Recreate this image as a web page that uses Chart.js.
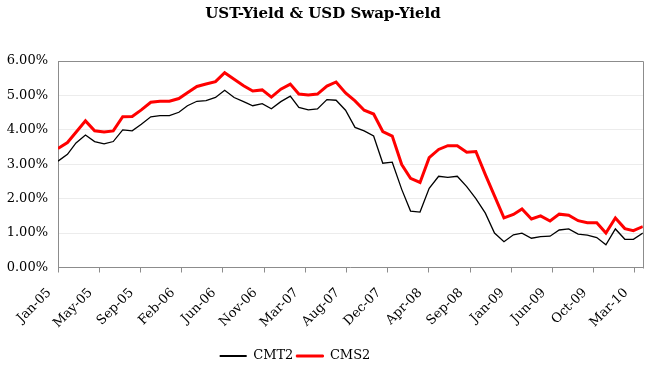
<!DOCTYPE html>
<html>
<head>
<meta charset="utf-8">
<script src="https://cdn.jsdelivr.net/npm/chart.js@4/dist/chart.umd.min.js"></script>
<style>
  html, body { margin: 0; padding: 0; background: #fff; }
  #wrap { width: 650px; height: 368px; position: relative; }
</style>
</head>
<body>
<div id="wrap"><canvas id="c" width="650" height="368"></canvas></div>
<script>
// ---- data ----
const months = [
  '2005-01','2005-02','2005-03','2005-04','2005-05','2005-06','2005-07','2005-08','2005-09','2005-10','2005-11','2005-12',
  '2006-01','2006-02','2006-03','2006-04','2006-05','2006-06','2006-07','2006-08','2006-09','2006-10','2006-11','2006-12',
  '2007-01','2007-02','2007-03','2007-04','2007-05','2007-06','2007-07','2007-08','2007-09','2007-10','2007-11','2007-12',
  '2008-01','2008-02','2008-03','2008-04','2008-05','2008-06','2008-07','2008-08','2008-09','2008-10','2008-11','2008-12',
  '2009-01','2009-02','2009-03','2009-04','2009-05','2009-06','2009-07','2009-08','2009-09','2009-10','2009-11','2009-12',
  '2010-01','2010-02','2010-03','2010-04'
];
const cmt2 = [
  3.09,3.29,3.62,3.85,3.66,3.59,3.66,4.00,3.97,4.16,4.38,4.41,
  4.41,4.51,4.70,4.83,4.85,4.94,5.15,4.94,4.82,4.70,4.76,4.61,
  4.82,4.98,4.65,4.58,4.61,4.88,4.86,4.57,4.07,3.97,3.82,3.03,
  3.06,2.27,1.64,1.61,2.30,2.65,2.62,2.65,2.35,2.00,1.58,1.00,
  0.75,0.95,1.00,0.85,0.90,0.91,1.09,1.12,0.97,0.94,0.87,0.66,
  1.12,0.82,0.82,1.00
];
const cms2 = [
  3.46,3.63,3.93,4.26,3.97,3.94,3.97,4.38,4.39,4.58,4.80,4.83,
  4.83,4.91,5.08,5.26,5.33,5.40,5.66,5.47,5.28,5.13,5.16,4.95,
  5.18,5.33,5.04,5.01,5.04,5.27,5.39,5.07,4.84,4.57,4.46,3.95,
  3.82,2.99,2.59,2.47,3.19,3.43,3.54,3.54,3.35,3.37,2.70,2.08,
  1.44,1.54,1.70,1.41,1.50,1.35,1.55,1.52,1.36,1.30,1.30,1.00,
  1.44,1.13,1.07,1.19
];
const tickLabels = ['Jan-05','May-05','Sep-05','Feb-06','Jun-06','Nov-06','Mar-07','Aug-07','Dec-07','Apr-08','Sep-08','Jan-09','Jun-09','Oct-09','Mar-10'];
const yTicks = [0,1,2,3,4,5,6];

// ---- helpers ----
const DAY = 86400000;
const origin = Date.UTC(2005, 0, 1);
const dayOf = m => (Date.UTC(+m.slice(0,4), +m.slice(5,7) - 1, 1) - origin) / DAY;
const majorUnit = 135; // days between category labels (date axis)
const toPoints = arr => arr.map((v, i) => ({ x: dayOf(months[i]), y: v }));

const FONT = "'DejaVu Serif', 'Liberation Serif', serif";

const boxPlugin = {
  id: 'plotBox',
  afterLayout(chart) {
    // Excel places the legend slightly left of centre
    if (chart.legend) { chart.legend.left -= 28; chart.legend.right -= 28; }
  },
  beforeDatasetsDraw(chart) {
    const a = chart.chartArea, ctx = chart.ctx;
    ctx.save();
    ctx.strokeStyle = '#8c8c8c';
    ctx.lineWidth = 1;
    ctx.beginPath();
    ctx.moveTo(Math.round(a.left) + 0.5, Math.round(a.top) + 0.5);
    ctx.lineTo(Math.round(a.right) + 0.5, Math.round(a.top) + 0.5);
    ctx.lineTo(Math.round(a.right) + 0.5, Math.round(a.bottom) + 0.5);
    ctx.stroke();
    ctx.restore();
  }
};

new Chart(document.getElementById('c'), {
  type: 'line',
  data: {
    datasets: [
      { label: 'CMT2', data: toPoints(cmt2), borderColor: '#000000', backgroundColor: '#000000', borderWidth: 1.3, pointRadius: 0, tension: 0 },
      { label: 'CMS2', data: toPoints(cms2), borderColor: '#ff0000', backgroundColor: '#ff0000', borderWidth: 3, pointRadius: 0, tension: 0 }
    ]
  },
  options: {
    responsive: false,
    animation: false,
    devicePixelRatio: 1,
    layout: { padding: { left: 0, right: 4, top: 0, bottom: -4.5 } },
    plugins: {
      title: {
        display: true,
        text: 'UST-Yield & USD Swap-Yield',
        color: '#000',
        font: { family: FONT, size: 15, weight: 'bold' },
        padding: { top: 5, bottom: 38 }
      },
      legend: {
        position: 'bottom',
        labels: {
          color: '#000',
          font: { family: FONT, size: 13 },
          boxWidth: 27,
          boxHeight: 2,
          padding: 3,
          generateLabels(chart) {
            return chart.data.datasets.map((d, i) => ({
              text: d.label, fillStyle: d.borderColor, strokeStyle: d.borderColor,
              lineWidth: d.borderWidth > 2 ? 1 : 0, hidden: false, datasetIndex: i, fontColor: '#000'
            }));
          }
        }
      },
      tooltip: { enabled: false }
    },
    scales: {
      x: {
        type: 'linear',
        min: 0,
        max: dayOf(months[months.length - 1]),
        afterBuildTicks(scale) {
          scale.ticks = tickLabels.map((_, k) => ({ value: k * majorUnit }));
        },
        afterFit(scale) { scale.height = 79; },
        ticks: {
          autoSkip: false,
          minRotation: 45, maxRotation: 45,
          color: '#000',
          font: { family: FONT, size: 13 },
          padding: 4,
          callback: (v, i) => tickLabels[i] + '\u00a0\u00a0\u00a0'
        },
        grid: { drawOnChartArea: false, drawTicks: true, tickLength: 5, color: '#8c8c8c' },
        border: { display: true, color: '#8c8c8c', width: 1 }
      },
      y: {
        min: 0, max: 6,
        afterBuildTicks(scale) { scale.ticks = yTicks.map(v => ({ value: v })); },
        afterFit(scale) { scale.width = 58; },
        ticks: {
          color: '#000',
          font: { family: FONT, size: 13 },
          padding: 10,
          callback: v => v.toFixed(2) + '%'
        },
        grid: { color: '#ececec', drawTicks: false, lineWidth: 1 },
        border: { display: true, color: '#8c8c8c', width: 1 }
      }
    }
  },
  plugins: [boxPlugin]
});
</script>
</body>
</html>
